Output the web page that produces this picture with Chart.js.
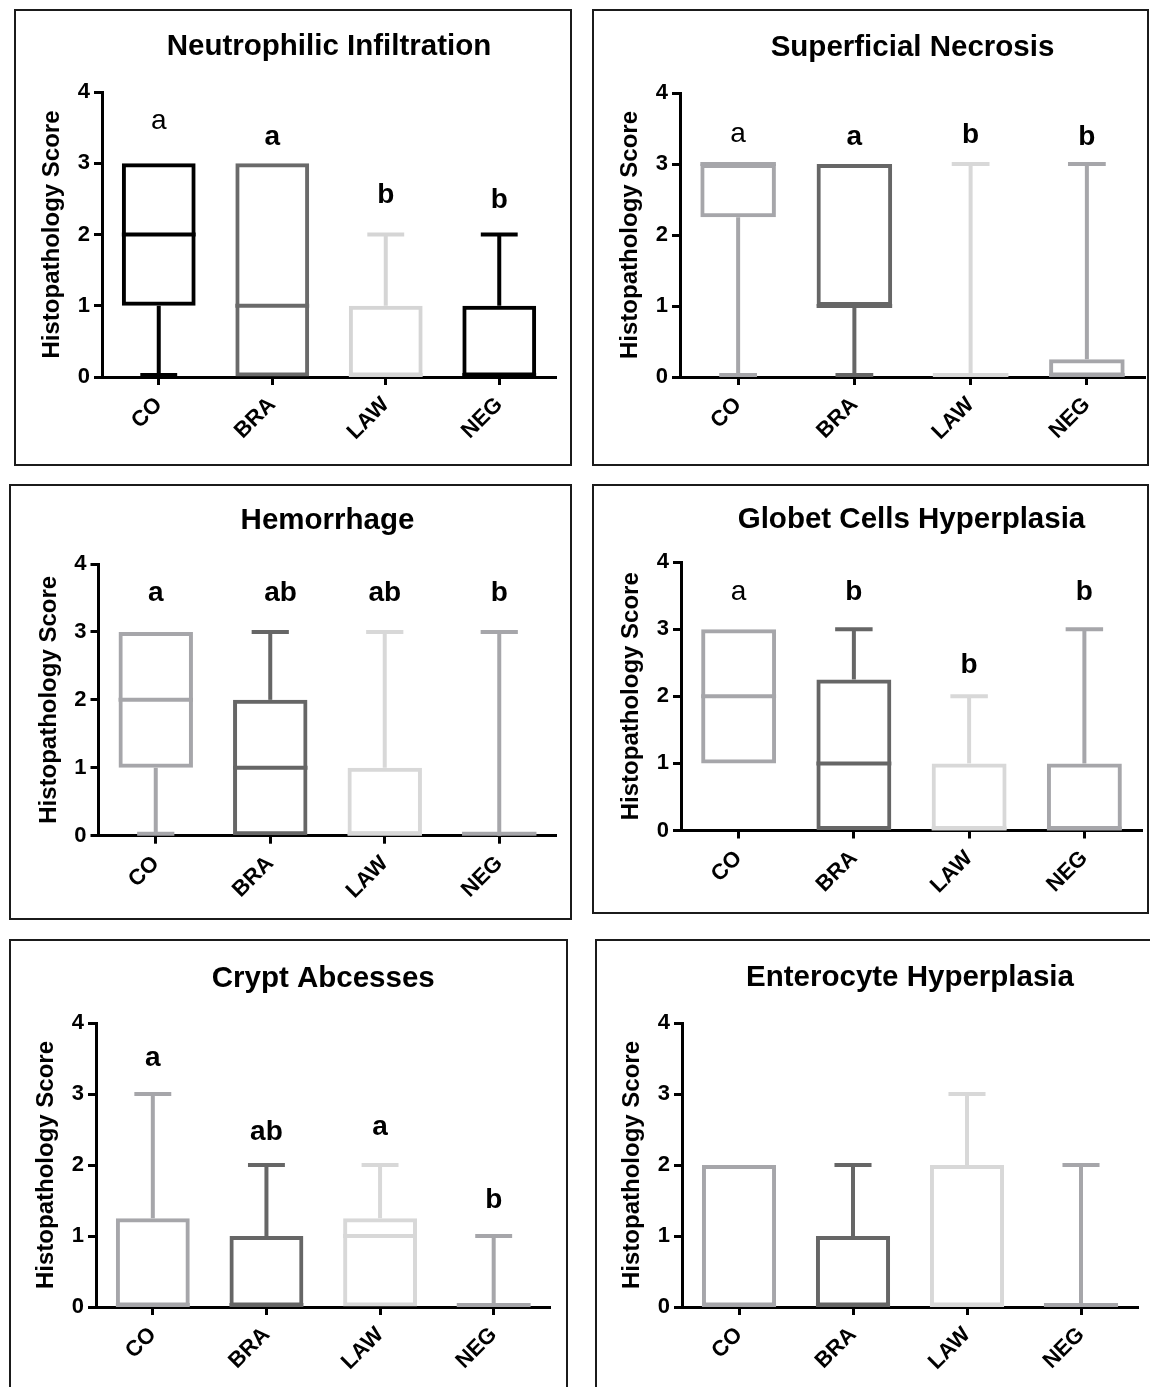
<!DOCTYPE html>
<html>
<head>
<meta charset="utf-8">
<script src="https://cdn.jsdelivr.net/npm/chart.js@4/dist/chart.umd.min.js"></script>
<style>
  html, body { margin: 0; padding: 0; background: #fff; }
  body { width: 1150px; height: 1387px; position: relative; overflow: hidden; }
  .panel { position: absolute; box-sizing: border-box; border: 2px solid #1b1b1b; }
  .plot { position: absolute; left: 0; top: 0; }
</style>
</head>
<body>
<script>
// ---- data -------------------------------------------------------------
const groups = ['CO', 'BRA', 'LAW', 'NEG'];
const yTicks = [0, 1, 2, 3, 4];

// five-number summaries per group: [min, Q1, median, Q3, max]
const neutrophilicInfiltration = [[0, 1, 2, 3, 3], [0, 0, 1, 3, 3], [0, 0, 0, 1, 2], [0, 0, 0, 1, 2]];
const superficialNecrosis     = [[0, 2.25, 3, 3, 3], [0, 1, 1, 3, 3], [0, 0, 0, 0, 3], [0, 0, 0, 0.25, 3]];
const hemorrhage              = [[0, 1, 2, 3, 3], [0, 0, 1, 2, 3], [0, 0, 0, 1, 3], [0, 0, 0, 0, 3]];
const globetCellsHyperplasia  = [[1, 1, 2, 3, 3], [0, 0, 1, 2.25, 3], [0, 0, 0, 1, 2], [0, 0, 0, 1, 3]];
const cryptAbcesses           = [[0, 0, 0, 1.25, 3], [0, 0, 0, 1, 2], [0, 0, 1, 1.25, 2], [0, 0, 0, 0, 1]];
const enterocyteHyperplasia   = [[0, 0, 0, 2, 2], [0, 0, 0, 1, 2], [0, 0, 0, 2, 3], [0, 0, 0, 0, 2]];

// significance letters above each group
const neutrophilicLetters = ['a', 'a', 'b', 'b'];
const necrosisLetters     = ['a', 'a', 'b', 'b'];
const hemorrhageLetters   = ['a', 'ab', 'ab', 'b'];
const globetLetters       = ['a', 'b', 'b', 'b'];
const cryptLetters        = ['a', 'ab', 'a', 'b'];
const enterocyteLetters   = [];

// ---- placement of the letters (baseline, in score units) ---------------
const neutrophilicLetterAt = [3.48, 3.26, 2.44, 2.37];
const necrosisLetterAt     = [3.31, 3.27, 3.30, 3.27];
const hemorrhageLetterAt   = [3.45, 3.45, 3.45, 3.45];
const globetLetterAt       = [3.44, 3.44, 2.34, 3.44];
const cryptLetterAt        = [3.40, 2.35, 2.42, 1.39];

// ---- styling ---------------------------------------------------------
const FAMILY = '"Liberation Sans", Arial, Helvetica, sans-serif';
Chart.defaults.font.family = FAMILY;
Chart.defaults.color = '#000';
const blackPalette = ['#000000', '#6a6a6a', '#d5d5d5', '#000000'];
const greyPalette  = ['#a6a6aa', '#666666', '#d8d8d8', '#a6a6aa'];
const LINE = 4;
const TICK_FONT = { size: 22, weight: 'bold' };

// frame: [left, top, right, bottom]; axis: [left, right, top(4), bottom(0)]
const panels = [
  { title: 'Neutrophilic Infiltration', summary: neutrophilicInfiltration, letters: neutrophilicLetters, letterAt: neutrophilicLetterAt,
    plainFirst: true, palette: blackPalette, frame: [15, 10, 571, 465], axis: [102, 556, 92, 377], titleY: 47 },
  { title: 'Superficial Necrosis', summary: superficialNecrosis, letters: necrosisLetters, letterAt: necrosisLetterAt,
    plainFirst: true, palette: greyPalette, frame: [593, 10, 1148, 465], axis: [680, 1145, 93, 377], titleY: 47.5 },
  { title: 'Hemorrhage', summary: hemorrhage, letters: hemorrhageLetters, letterAt: hemorrhageLetterAt, letterShift: [0, 0.09, 0, 0],
    plainFirst: false, palette: greyPalette, frame: [10, 485, 571, 919], axis: [98.5, 556.5, 564, 835.7], titleY: 521 },
  { title: 'Globet Cells Hyperplasia', summary: globetCellsHyperplasia, letters: globetLetters, letterAt: globetLetterAt,
    plainFirst: true, palette: greyPalette, frame: [593, 485, 1148, 913], axis: [681, 1142, 562, 830.5], titleY: 520 },
  { title: 'Crypt Abcesses', summary: cryptAbcesses, letters: cryptLetters, letterAt: cryptLetterAt,
    plainFirst: false, palette: greyPalette, frame: [10, 940, 567, 1400], axis: [96, 550.5, 1023, 1307], titleY: 979 },
  { title: 'Enterocyte Hyperplasia', summary: enterocyteHyperplasia, letters: enterocyteLetters, letterAt: [],
    plainFirst: false, palette: greyPalette, frame: [596, 940, 1160, 1400], axis: [682, 1138, 1023, 1307], titleY: 978 }
];

function makePanel(p) {
  const [x0, y0, x1, y1] = p.frame;
  const [aL, aR, aT, aB] = p.axis;
  const frame = document.createElement('div');
  frame.className = 'panel';
  Object.assign(frame.style, { left: (x0 - 1) + 'px', top: (y0 - 1) + 'px', width: (x1 - x0 + 2) + 'px', height: (y1 - y0 + 2) + 'px' });
  const W = x1 - x0 - 2, H = y1 - y0 - 2;
  const ox = x0 + 1, oy = y0 + 1;
  const wrap = document.createElement('div');
  wrap.className = 'plot';
  Object.assign(wrap.style, { width: W + 'px', height: H + 'px' });
  const canvas = document.createElement('canvas');
  wrap.appendChild(canvas);
  frame.appendChild(wrap);
  document.body.appendChild(frame);

  const yTitleSize = 24, yTitleLH = yTitleSize * 1.2;
  const yTitlePad = Math.max(0, (aL - ox - 49.5) - yTitleLH / 2);

  // whiskers, caps and medians on top of the box outlines
  const boxWhiskers = {
    id: 'boxWhiskers',
    afterDatasetsDraw(chart) {
      const { ctx, scales: { x, y } } = chart;
      const meta = chart.getDatasetMeta(0);
      const base = y.getPixelForValue(y.min);
      const yp = v => y.getPixelForValue(v);
      const lift = v => (v === y.min ? base - LINE / 2 : yp(v));
      ctx.save();
      ctx.lineWidth = LINE;
      ctx.lineCap = 'butt';
      p.summary.forEach(([mn, q1, md, q3, mx], i) => {
        const cx = x.getPixelForValue(i);
        const half = meta.data[i].width / 2;
        const capHalf = half / 2;
        ctx.strokeStyle = p.palette[i];
        const seg = (xa, ya, xb, yb) => { ctx.beginPath(); ctx.moveTo(xa, ya); ctx.lineTo(xb, yb); ctx.stroke(); };
        if (mx > q3) {
          seg(cx, yp(q3), cx, yp(mx));
          seg(cx - capHalf, yp(mx), cx + capHalf, yp(mx));
        }
        if (mn < q1) {
          seg(cx, yp(q1), cx, lift(mn));
          seg(cx - capHalf, lift(mn), cx + capHalf, lift(mn));
        }
        const ym = lift(md);
        seg(cx - half, ym, cx + half, ym);
      });
      ctx.restore();
    }
  };

  // panel heading and significance letters
  const annotate = {
    id: 'annotate',
    afterDraw(chart) {
      const { ctx, chartArea, scales: { x, y } } = chart;
      ctx.save();
      ctx.fillStyle = '#000';
      ctx.textAlign = 'center';
      ctx.textBaseline = 'middle';
      ctx.font = 'bold 29.5px ' + FAMILY;
      ctx.fillText(p.title, (chartArea.left + chartArea.right) / 2, p.titleY - oy);
      ctx.textBaseline = 'alphabetic';
      p.letters.forEach((t, i) => {
        const plain = p.plainFirst && i === 0;
        ctx.font = (plain ? 'normal' : 'bold') + ' 28px ' + FAMILY;
        const shift = p.letterShift ? p.letterShift[i] : 0;
        ctx.fillText(t, x.getPixelForValue(i + shift), y.getPixelForValue(p.letterAt[i]));
      });
      ctx.restore();
    }
  };

  new Chart(canvas, {
    type: 'bar',
    data: {
      labels: groups,
      datasets: [{
        data: p.summary.map(s => [s[1], s[3]]),
        backgroundColor: 'rgba(0,0,0,0)',
        borderColor: p.palette,
        borderWidth: LINE,
        borderSkipped: false,
        categoryPercentage: 1,
        barPercentage: 0.65
      }]
    },
    options: {
      responsive: true,
      maintainAspectRatio: false,
      animation: false,
      events: [],
      layout: { padding: { left: 0, right: W - (aR - ox), top: aT - oy, bottom: 0 } },
      plugins: { legend: { display: false }, tooltip: { enabled: false }, title: { display: false } },
      scales: {
        x: {
          offset: true,
          grid: { display: true, drawOnChartArea: false, offset: false, tickLength: 8, tickWidth: 3, tickColor: '#000' },
          border: { display: true, color: '#000', width: 3 },
          ticks: { color: '#000', font: TICK_FONT, minRotation: 45, maxRotation: 45, padding: 7, autoSkip: false },
          afterFit: s => { s.height = H - (aB - oy); }
        },
        y: {
          min: yTicks[0],
          max: yTicks[yTicks.length - 1],
          afterBuildTicks: s => { s.ticks = yTicks.map(v => ({ value: v })); },
          grid: { display: true, drawOnChartArea: false, tickLength: 8, tickWidth: 3, tickColor: '#000' },
          border: { display: true, color: '#000', width: 3 },
          ticks: { color: '#000', font: TICK_FONT, padding: 4 },
          title: { display: true, text: 'Histopathology Score', color: '#000',
                   font: { size: yTitleSize, weight: 'bold' }, padding: { top: yTitlePad, bottom: 0 } },
          afterFit: s => { s.width = aL - ox; }
        }
      }
    },
    plugins: [boxWhiskers, annotate]
  });
}

panels.forEach(makePanel);
</script>
</body>
</html>
